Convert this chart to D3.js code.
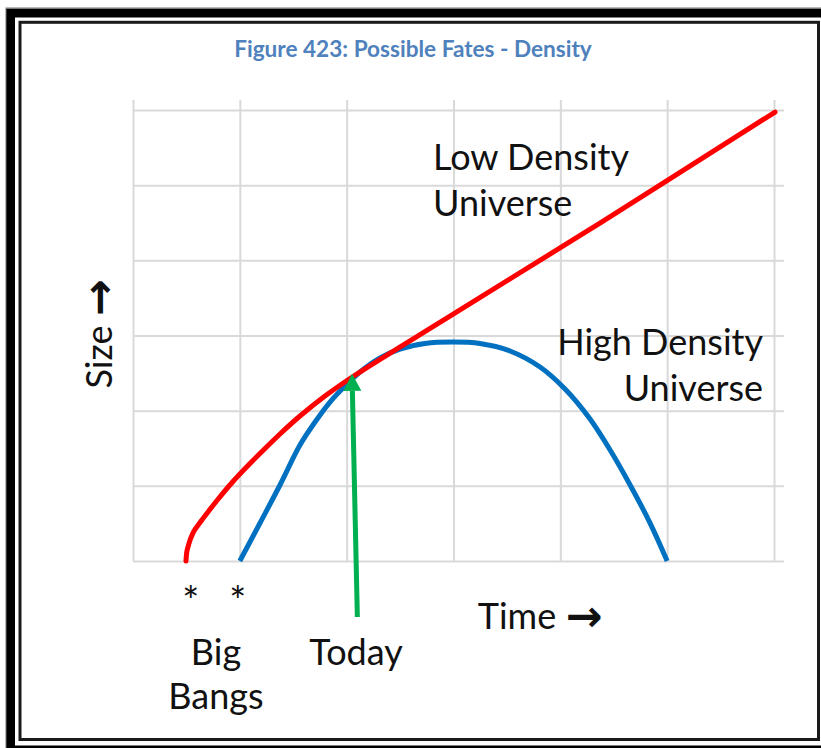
<!DOCTYPE html>
<html>
<head>
<meta charset="utf-8">
<script src="https://cdn.jsdelivr.net/npm/d3@7"></script>
<style>
html, body { margin: 0; padding: 0; background: #fff; }
svg { display: block; }
text { font-family: Lato, "Open Sans", sans-serif; }
</style>
</head>
<body>
<svg id="chart" width="821" height="748"></svg>
<script>
// ---- data (time units, size units) ----
const gridTicks = [0, 1, 2, 3, 4, 5, 6];

const lowTime = [0.496, 0.505, 0.52, 0.538, 0.571, 0.627, 0.702, 0.786, 0.936, 1.095, 1.217, 1.376, 1.563, 1.797, 2.06, 2.967, 4.371, 6.01];
const lowSize = [0.0, 0.133, 0.213, 0.293, 0.399, 0.512, 0.652, 0.805, 1.058, 1.297, 1.47, 1.69, 1.929, 2.195, 2.455, 3.258, 4.496, 5.973];

const highTime = [1.0, 1.189, 1.376, 1.563, 1.704, 1.844, 1.985, 2.125, 2.312, 2.499, 2.733, 2.995, 3.248, 3.529, 3.81, 4.044, 4.278, 4.466, 4.653, 4.84, 5.0];
const highSize = [0.0, 0.506, 1.011, 1.543, 1.849, 2.115, 2.328, 2.514, 2.701, 2.82, 2.894, 2.913, 2.894, 2.794, 2.581, 2.288, 1.889, 1.476, 1.011, 0.505, 0.0];

const todayTime = [2.10, 2.05];
const todaySize = [-0.745, 2.49];

const bangTimes = [0.54, 0.98];

// ---- layout ----
const svg = d3.select("#chart");
const mLeft = 133, mRight = 774, mTop = 110, mBottom = 561;

const x = d3.scaleLinear().domain([0, 6]).range([mLeft, mRight]);
const y = d3.scaleLinear().domain([0, 6]).range([mBottom, mTop]);

// frame
svg.append("rect").attr("x", 10.5).attr("y", 13).attr("width", 900).attr("height", 737)
  .attr("fill", "none").attr("stroke", "#000").attr("stroke-width", 9);
svg.append("rect").attr("x", 6).attr("y", 8).attr("width", 900).attr("height", 900)
  .attr("fill", "none").attr("stroke", "#777").attr("stroke-width", 1);
svg.append("rect").attr("x", 20).attr("y", 22.3).attr("width", 798.5).attr("height", 717.2)
  .attr("fill", "#fff").attr("stroke", "#1a1a1a").attr("stroke-width", 3);

// grid via axes
const gx = svg.append("g").attr("transform", `translate(0,${mBottom})`)
  .call(d3.axisBottom(x).tickValues(gridTicks).tickSize(-(mBottom - mTop + 10)).tickFormat(""));
const gy = svg.append("g").attr("transform", `translate(${mLeft},0)`)
  .call(d3.axisLeft(y).tickValues(gridTicks).tickSize(-(mRight - mLeft + 10)).tickFormat(""));
[gx, gy].forEach(g => {
  g.select(".domain").remove();
  g.selectAll(".tick line").attr("stroke", "#d9d9d9").attr("stroke-width", 2);
});

// curves
const line = d3.line().x(d => x(d[0])).y(d => y(d[1])).curve(d3.curveCatmullRom.alpha(0.5));
const lowData = lowTime.map((t, i) => [t, lowSize[i]]);
const highData = highTime.map((t, i) => [t, highSize[i]]);

svg.append("path").datum(highData).attr("d", line)
  .attr("fill", "none").attr("stroke", "#0070c0").attr("stroke-width", 5);
svg.append("path").datum(lowData).attr("d", line)
  .attr("fill", "none").attr("stroke", "#ff0000").attr("stroke-width", 5).attr("stroke-linecap", "round");

// Today arrow
const x0 = x(todayTime[0]), y0 = y(todaySize[0]), x1 = x(todayTime[1]), y1 = y(todaySize[1]);
const ang = Math.atan2(y1 - y0, x1 - x0);
const headLen = 17, headW = 9;
const bx = x1 - headLen * Math.cos(ang), by = y1 - headLen * Math.sin(ang);
svg.append("line").attr("x1", x0).attr("y1", y0).attr("x2", bx).attr("y2", by)
  .attr("stroke", "#00b050").attr("stroke-width", 5);
const px = -Math.sin(ang), py = Math.cos(ang);
svg.append("path")
  .attr("d", `M${x1},${y1}L${bx + px * headW},${by + py * headW}L${bx - px * headW},${by - py * headW}Z`)
  .attr("fill", "#00b050");

// texts
svg.append("text").attr("x", 413).attr("y", 57).attr("text-anchor", "middle")
  .attr("fill", "#4f81bd").attr("font-weight", "bold").attr("font-size", 22.6)
  .text("Figure 423: Possible Fates - Density");

const big = 36, ink = "#111";
function label(xp, yp, s, anchor) {
  return svg.append("text").attr("x", xp).attr("y", yp).attr("text-anchor", anchor || "start")
    .attr("font-size", big).attr("fill", ink).text(s);
}
label(433, 170, "Low Density");
label(433, 216, "Universe");
label(763, 355, "High Density", "end");
label(763, 401, "Universe", "end");

function arrowLabel(sel, word) {
  sel.append("tspan").text(word + " ");
  sel.append("tspan").attr("font-family", "DejaVu Sans").attr("font-weight", "bold")
    .attr("font-size", 44).attr("dy", 2).text("\u2192");
}
const sizeLbl = svg.append("text").attr("transform", "translate(112,334) rotate(-90)")
  .attr("text-anchor", "middle").attr("font-size", big).attr("fill", ink);
arrowLabel(sizeLbl, "Size");
const timeLbl = svg.append("text").attr("x", 540).attr("y", 629).attr("text-anchor", "middle")
  .attr("font-size", big).attr("fill", ink);
arrowLabel(timeLbl, "Time");

svg.selectAll(".bang").data(bangTimes).enter().append("text")
  .attr("class", "bang")
  .attr("x", d => x(d)).attr("y", 616).attr("text-anchor", "middle")
  .attr("font-family", "DejaVu Sans").attr("font-size", 40).attr("fill", ink).text("*");

label(216, 665, "Big", "middle");
label(216, 709, "Bangs", "middle");
label(356, 665, "Today", "middle");
</script>
</body>
</html>
